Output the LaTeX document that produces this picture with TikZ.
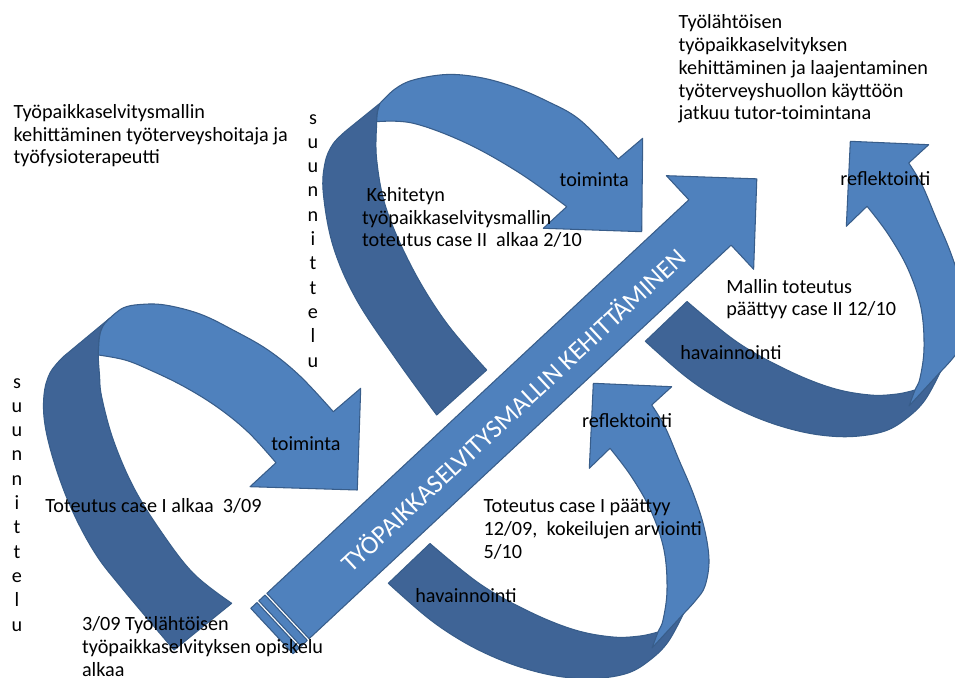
\documentclass[tikz,border=0pt]{standalone}
\usepackage{fontspec}
\setmainfont{Carlito}
\definecolor{ribbonfront}{RGB}{79,129,189}
\definecolor{ribbonback}{RGB}{63,100,150}
\definecolor{ribbonedge}{RGB}{56,93,138}
\tikzset{
  front/.style={fill=ribbonfront, draw=ribbonedge, line width=0.6pt, line join=round},
  back/.style={fill=ribbonback, draw=ribbonedge, line width=0.6pt, line join=round},
  % multi-line labels are anchored at the baseline of their last line
  lbl/.style={font=\fontsize{11.5}{13.05}\selectfont, align=left, inner sep=0pt, anchor=base west},
  vlbl/.style={font=\fontsize{11.5}{13.83}\selectfont, align=center, inner sep=0pt, anchor=base},
  % curved ribbon loop whose head points up-left (observation -> reflection)
  loopup/.pic={
    \filldraw[back] plot[smooth, tension=0.6] coordinates {(388.3,583.3) (428,618) (462,641) (496,658) (530,670) (563,677) (596,678.5) (628,673) (650,660) (668,642) (683.3,614)}
      -- plot[smooth, tension=0.6] coordinates {(658,632) (640,636) (613,637) (575,630) (530,612) (480,584) (430,543.5)} -- cycle;
    \filldraw[front] (652,648) -- plot[smooth, tension=0.6] coordinates {(683.3,614) (696,600) (705,586) (709,560) (704,527) (693,493) (679,460) (665,427) (651.7,405)}
      -- (671.7,386.7) -- (593.3,383.3) -- (589.3,468.3)
      -- plot[smooth, tension=0.6] coordinates {(610,448.3) (631,476) (651,511) (664,550) (667,590) (663,620) (658,632) (652,648)} -- cycle;
  }
}
\begin{document}
\begin{tikzpicture}[x=0.02cm, y=-0.02cm]
\useasboundingbox (0,0) rectangle (955,678);
\begin{scope}
\clip (0,0) rectangle (955,678);

% lower-left loop: planning -> action
\filldraw[back] plot[smooth, tension=0.6] coordinates {(174,650) (121,587) (95,553) (72,510) (55,465) (45,425) (44,395) (50,373) (63,357)}
  -- (110,318)
  -- plot[smooth, tension=0.6] coordinates {(110,318) (103,326) (99.5,337) (98.3,355) (99.5,375) (101.7,397) (113.3,440) (133.3,486.7) (160,530) (193.3,573.3) (231.7,603.3)} -- cycle;
\filldraw[front] plot[smooth, tension=0.6] coordinates {(110,318) (123,308) (140,304.5) (165,305) (200,314) (233,330) (268,350) (300,376) (333.3,411.7)}
  -- (360.7,388.3) -- (357.3,490) -- (250,486.7)
  -- plot[smooth, tension=0.6] coordinates {(276,462.7) (248,432) (216.7,406.7) (183,386) (150,370) (125,360) (98.3,355)}
  -- plot[smooth, tension=0.6] coordinates {(98.3,355) (99.5,337) (103,326) (110,318)} -- cycle;

% upper loop: planning -> action
\filldraw[back] plot[smooth, tension=0.6] coordinates {(436.7,415) (396.7,360) (356.7,300) (333.3,246.7) (323.3,193.3) (325,163) (333,144) (347,130)}
  -- (380,103.3)
  -- plot[smooth, tension=0.6] coordinates {(380,103.3) (377.5,112) (376.7,121.7) (376.7,160) (386.7,210) (413.3,270) (446.7,323.3) (486.7,370)} -- cycle;
\filldraw[front] plot[smooth, tension=0.6] coordinates {(380,103.3) (395,89) (413.3,80) (446.7,74.5) (480,77.5) (513.3,86.7) (546.7,101) (580,120) (618.3,159)}
  -- (642.7,138.3) -- (641.7,231.7) -- (543.3,228.3)
  -- plot[smooth, tension=0.6] coordinates {(566.7,206.7) (520,173.3) (466.7,143.3) (413.3,123.3) (376.7,121.7)}
  -- plot[smooth, tension=0.6] coordinates {(376.7,121.7) (377.5,112) (380,103.3)} -- cycle;

% the two observation -> reflection loops
\pic (loopa) at (0,0) {loopup};
\pic (loopb) at (257,-242) {loopup};
\end{scope}

% main diagonal arrow
\begin{scope}[shift={(288,616)}, rotate=43]
\filldraw[front] (0,-31) -- (577,-31) -- (577,-64) -- (641,0) -- (577,64) -- (577,31) -- (0,31) -- cycle;
\filldraw[front] (-2.5,-31) -- (-11,-31) -- (-11,31) -- (-2.5,31) -- cycle;
\filldraw[front] (-13.5,-31) -- (-22,-31) -- (-22,31) -- (-13.5,31) -- cycle;
\node[transform shape, text=white, font=\fontsize{14.8}{16}\selectfont, inner sep=0pt] (title) at (305,2) {TYÖPAIKKASELVITYSMALLIN KEHITTÄMINEN};
\end{scope}

% labels
\node[lbl] (t1) at (13.3,164) {Työpaikkaselvitysmallin\\kehittäminen työterveyshoitaja ja\\työfysioterapeutti};
\node[vlbl] (s1) at (313,367) {s\\u\\u\\n\\n\\i\\t\\t\\e\\l\\u};
\node[vlbl] (s2) at (17,631) {s\\u\\u\\n\\n\\i\\t\\t\\e\\l\\u};
\node[lbl] (t2) at (361.7,247) {\ Kehitetyn\\työpaikkaselvitysmallin\\toteutus case II\ \ alkaa 2/10};
\node[lbl] (toim2) at (559.3,187) {toiminta};
\node[lbl] (toim1) at (271,450) {toiminta};
\node[lbl] (case1) at (45,512) {Toteutus case I alkaa\ \ 3/09};
\node[lbl] (start) at (81.7,676) {3/09 Työlähtöisen\\työpaikkaselvityksen opiskelu\\alkaa};
\node[lbl] (refl1) at (581.7,427) {reflektointi};
\node[lbl] (end1) at (483.3,558) {Toteutus case I päättyy\\12/09,\ \ kokeilujen arviointi\\5/10};
\node[lbl] (hav1) at (415,602) {havainnointi};
\node[lbl] (end2) at (726,316) {Mallin toteutus\\päättyy case II 12/10};
\node[lbl] (hav2) at (680,359) {havainnointi};
\node[lbl] (refl2) at (840,186) {reflektointi};
\node[lbl] (goal) at (678.3,120) {Työlähtöisen\\työpaikkaselvityksen\\kehittäminen ja laajentaminen\\työterveyshuollon käyttöön\\jatkuu tutor-toimintana};
\end{tikzpicture}
\end{document}
